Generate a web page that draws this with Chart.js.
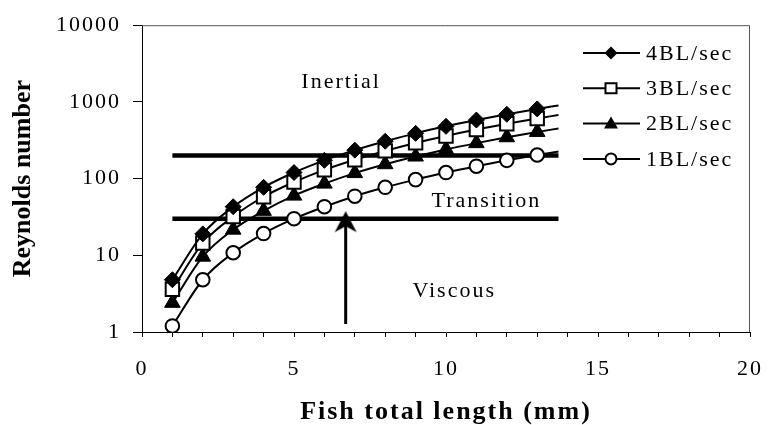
<!DOCTYPE html>
<html>
<head>
<meta charset="utf-8">
<script src="https://cdn.jsdelivr.net/npm/chart.js@4/dist/chart.umd.min.js"></script>
<style>
  html, body { margin: 0; padding: 0; background: #fff; }
  #wrap { width: 782px; height: 425px; }
</style>
</head>
<body>
<div id="wrap"><canvas id="chart"></canvas></div>
<script>
// ============================================================
// Data
// ============================================================
const lengths = [1, 2, 3, 4, 5, 6, 7, 8, 9, 10, 11, 12, 13, 13.7];
const re4BL = [4.8, 19, 43, 77, 120, 173, 235, 307, 389, 480, 580, 690, 810, 900];
const re3BL = [3.6, 14.4, 32, 58, 90, 130, 176, 230, 292, 360, 436, 518, 608, 676];
const re2BL = [2.4, 9.6, 21.6, 38, 60, 86, 118, 154, 194, 240, 290, 346, 406, 450];
const re1BL = [1.2, 4.8, 10.8, 19.2, 30, 43, 59, 77, 97, 120, 145, 173, 203, 225];

const seriesNames = ['4BL/sec', '3BL/sec', '2BL/sec', '1BL/sec'];

// regime limits and the arrow
const limitX = [1, 13.7];
const inertialLimit = 200;
const viscousLimit = 30;
const arrowX = 6.7;
const arrowY = [1.27, 27];

const yTicks = [1, 10, 100, 1000, 10000];
const regionLabels = [
  { text: 'Inertial', x: 6.55, y: 1780 },
  { text: 'Transition', x: 11.33, y: 50 },
  { text: 'Viscous', x: 10.27, y: 3.4 },
];
const yTitle = 'Reynolds number';

// ============================================================
// Helpers
// ============================================================
const FONT = '"Liberation Serif", "Times New Roman", serif';
const SPACING = '2px';

function pts(xs, ys) { return xs.map((x, i) => ({ x, y: ys[i] })); }

function arrowHead() {
  const c = document.createElement('canvas');
  c.width = 24; c.height = 22;
  const g = c.getContext('2d');
  g.fillStyle = '#000';
  g.beginPath();
  g.moveTo(12, 0); g.lineTo(23, 21); g.lineTo(12, 15); g.lineTo(1, 21);
  g.closePath(); g.fill();
  return c;
}

function series(label, ys, style, radius, fill) {
  return {
    label, data: pts(lengths, ys),
    borderColor: '#000', borderWidth: 2,
    pointStyle: style,
    pointRadius: ctx => ctx.dataIndex === lengths.length - 1 ? 0 : radius,
    pointBackgroundColor: fill, pointBorderColor: '#000', pointBorderWidth: fill === '#000' ? 1 : 2,
    cubicInterpolationMode: 'monotone',
  };
}

function thick(y) {
  return {
    label: '_limit', data: pts(limitX, [y, y]),
    borderColor: '#000', borderWidth: 4.5, pointRadius: 0, tension: 0,
  };
}

// ============================================================
// Plugins: letter spacing, frame, region labels, legend
// ============================================================
const spacingPlugin = {
  id: 'spacing',
  beforeLayout(chart) { chart.ctx.letterSpacing = SPACING; },
  beforeDraw(chart) { chart.ctx.letterSpacing = SPACING; },
};

function legendMarker(ctx, i, x, y) {
  ctx.beginPath();
  if (i === 0) {
    ctx.moveTo(x, y - 6.5); ctx.lineTo(x + 6.5, y); ctx.lineTo(x, y + 6.5); ctx.lineTo(x - 6.5, y);
    ctx.closePath(); ctx.fillStyle = '#000'; ctx.fill();
  } else if (i === 1) {
    ctx.rect(x - 5.5, y - 5, 11, 10);
    ctx.fillStyle = '#fff'; ctx.fill(); ctx.lineWidth = 2; ctx.stroke();
  } else if (i === 2) {
    ctx.moveTo(x, y - 7); ctx.lineTo(x + 7, y + 5); ctx.lineTo(x - 7, y + 5);
    ctx.closePath(); ctx.fillStyle = '#000'; ctx.fill();
  } else {
    ctx.arc(x, y, 5.5, 0, Math.PI * 2);
    ctx.fillStyle = '#fff'; ctx.fill(); ctx.lineWidth = 2; ctx.stroke();
  }
}

const decorPlugin = {
  id: 'decor',
  afterDraw(chart) {
    const { ctx, chartArea: a, scales } = chart;
    ctx.save();
    // frame top / right
    ctx.strokeStyle = '#555';
    ctx.lineWidth = 1;
    ctx.beginPath();
    ctx.moveTo(a.left, a.top + 0.5); ctx.lineTo(a.right - 0.5, a.top + 0.5); ctx.lineTo(a.right - 0.5, a.bottom);
    ctx.stroke();
    // y title (rotated, no extra spacing)
    ctx.letterSpacing = '0px';
    ctx.fillStyle = '#000';
    ctx.font = 'bold 26px ' + FONT;
    ctx.textAlign = 'center';
    ctx.textBaseline = 'middle';
    ctx.save();
    ctx.translate(23, (a.top + a.bottom) / 2);
    ctx.rotate(-Math.PI / 2);
    ctx.fillText(yTitle, 0, 0);
    ctx.restore();
    // region labels
    ctx.letterSpacing = SPACING;
    ctx.font = '22px ' + FONT;
    for (const r of regionLabels) {
      ctx.fillText(r.text, scales.x.getPixelForValue(r.x), scales.y.getPixelForValue(r.y));
    }
    // legend
    ctx.textAlign = 'left';
    ctx.strokeStyle = '#000';
    seriesNames.forEach((name, i) => {
      const y = 53 + i * 35.3;
      ctx.lineWidth = 2;
      ctx.beginPath(); ctx.moveTo(583, y); ctx.lineTo(640, y); ctx.stroke();
      legendMarker(ctx, i, 611, y);
      ctx.fillStyle = '#000';
      ctx.fillText(name, 646, y + 1);
    });
    ctx.restore();
  },
};

// ============================================================
// Chart
// ============================================================
const datasets = [
  series(seriesNames[0], re4BL, 'rectRot', 8, '#000'),
  series(seriesNames[1], re3BL, 'rect', 9.5, '#fff'),
  series(seriesNames[2], re2BL, 'triangle', 9, '#000'),
  series(seriesNames[3], re1BL, 'circle', 6.8, '#fff'),
  thick(inertialLimit),
  thick(viscousLimit),
  {
    label: '_arrow', data: pts([arrowX, arrowX], arrowY),
    borderColor: '#000', borderWidth: 3, tension: 0,
    pointRadius: [0, 5], pointStyle: [false, arrowHead()],
  },
];

new Chart(document.getElementById('chart'), {
  type: 'line',
  data: { datasets },
  plugins: [spacingPlugin, decorPlugin],
  options: {
    responsive: true,
    maintainAspectRatio: false,
    animation: false,
    layout: { padding: { top: 22, right: 15, left: 0, bottom: 0 } },
    plugins: { legend: { display: false }, tooltip: { enabled: false } },
    scales: {
      x: {
        type: 'linear', min: 0, max: 20,
        afterFit: s => { s.height = 93; },
        ticks: {
          stepSize: 1, autoSkip: false, maxRotation: 0, padding: 19,
          color: '#000', font: { family: FONT, size: 22 },
          callback: v => (v % 5 === 0 ? String(v) : ''),
        },
        grid: { drawOnChartArea: false, drawTicks: true, tickLength: 5, color: '#000' },
        border: { display: true, color: '#000', width: 1 },
        title: {
          display: true, text: 'Fish total length (mm)', color: '#000',
          font: { family: FONT, size: 26, weight: 'bold', lineHeight: 1 }, padding: { top: 0, bottom: 0 },
        },
      },
      y: {
        type: 'logarithmic', min: 1, max: 10000,
        afterFit: s => { s.width = 142; },
        afterBuildTicks: s => { s.ticks = yTicks.map(v => ({ value: v })); },
        ticks: {
          color: '#000', font: { family: FONT, size: 22 }, padding: 12,
          callback: v => String(v),
        },
        grid: { drawOnChartArea: false, drawTicks: true, tickLength: 9, color: '#000' },
        border: { display: true, color: '#000', width: 1 },
        title: { display: false },
      },
    },
  },
});
</script>
</body>
</html>
